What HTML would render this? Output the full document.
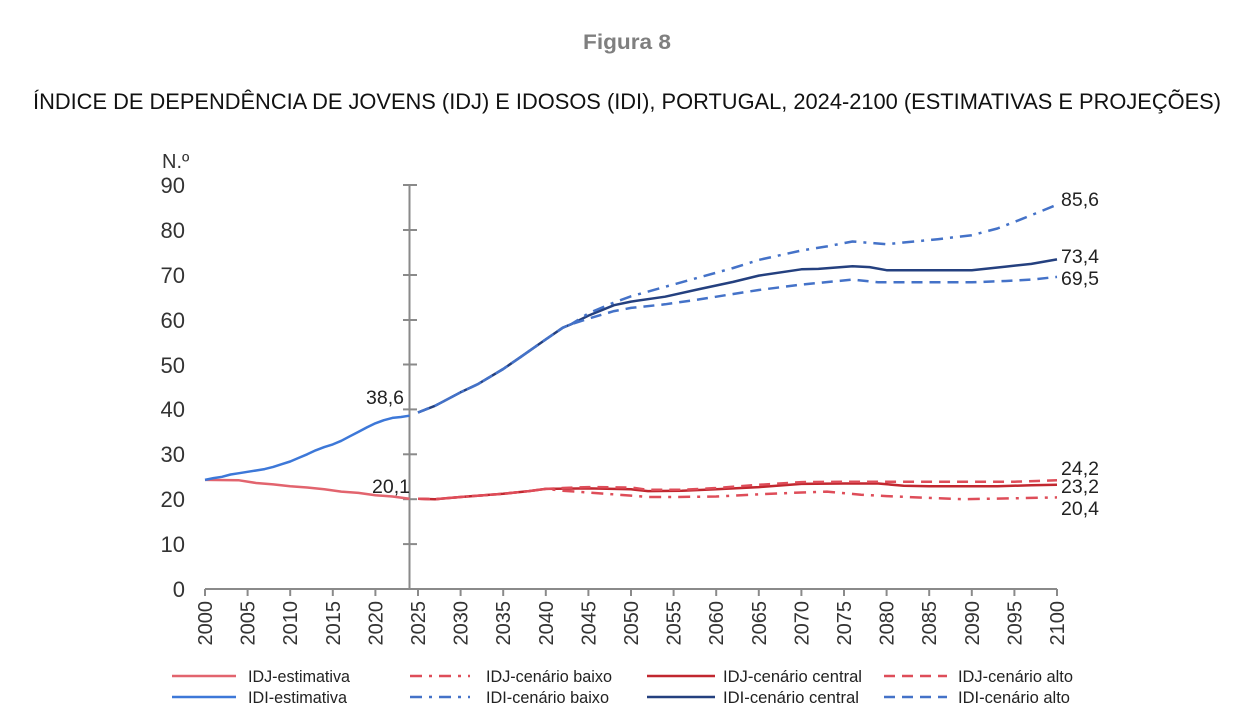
<!DOCTYPE html>
<html>
<head>
<meta charset="utf-8">
<style>
html,body{margin:0;padding:0;background:#fff;}
svg{display:block;}
text{font-family:"Liberation Sans",Arial,sans-serif;}
</style>
</head>
<body>
<svg width="1254" height="724" viewBox="0 0 1254 724" xmlns="http://www.w3.org/2000/svg">
<rect width="1254" height="724" fill="#fff"/>
<!-- Titles -->
<text x="627" y="49" text-anchor="middle" font-size="21" font-weight="bold" fill="#7f7f7f" textLength="88" lengthAdjust="spacingAndGlyphs">Figura 8</text>
<text x="33" y="109" font-size="22" fill="#111" textLength="1188" lengthAdjust="spacingAndGlyphs">ÍNDICE DE DEPENDÊNCIA DE JOVENS (IDJ) E IDOSOS (IDI), PORTUGAL, 2024-2100 (ESTIMATIVAS E PROJEÇÕES)</text>

<!-- Y axis label -->
<text x="162" y="168" font-size="20" fill="#333">N.º</text>

<!-- Y tick labels -->
<g font-size="22" fill="#333" text-anchor="end">
<text x="185" y="193">90</text>
<text x="185" y="238">80</text>
<text x="185" y="283">70</text>
<text x="185" y="328">60</text>
<text x="185" y="373">50</text>
<text x="185" y="417">40</text>
<text x="185" y="462">30</text>
<text x="185" y="507">20</text>
<text x="185" y="552">10</text>
<text x="185" y="597">0</text>
</g>

<!-- Axes -->
<g stroke="#8a8a8a" stroke-width="2" fill="none">
<line x1="409.5" y1="184" x2="409.5" y2="589"/>
<line x1="205" y1="589" x2="1057" y2="589"/>
<line x1="403" y1="185" x2="417" y2="185"/>
<line x1="403" y1="230" x2="417" y2="230"/>
<line x1="403" y1="275" x2="417" y2="275"/>
<line x1="403" y1="320" x2="417" y2="320"/>
<line x1="403" y1="364.5" x2="417" y2="364.5"/>
<line x1="403" y1="409.4" x2="417" y2="409.4"/>
<line x1="403" y1="454.3" x2="417" y2="454.3"/>
<line x1="403" y1="499.2" x2="417" y2="499.2"/>
<line x1="403" y1="544.1" x2="417" y2="544.1"/>
<line x1="205" y1="589" x2="205" y2="596"/>
<line x1="247.6" y1="589" x2="247.6" y2="596"/>
<line x1="290.2" y1="589" x2="290.2" y2="596"/>
<line x1="332.8" y1="589" x2="332.8" y2="596"/>
<line x1="375.4" y1="589" x2="375.4" y2="596"/>
<line x1="418" y1="589" x2="418" y2="596"/>
<line x1="460.6" y1="589" x2="460.6" y2="596"/>
<line x1="503.2" y1="589" x2="503.2" y2="596"/>
<line x1="545.8" y1="589" x2="545.8" y2="596"/>
<line x1="588.4" y1="589" x2="588.4" y2="596"/>
<line x1="631" y1="589" x2="631" y2="596"/>
<line x1="673.6" y1="589" x2="673.6" y2="596"/>
<line x1="716.2" y1="589" x2="716.2" y2="596"/>
<line x1="758.8" y1="589" x2="758.8" y2="596"/>
<line x1="801.4" y1="589" x2="801.4" y2="596"/>
<line x1="844" y1="589" x2="844" y2="596"/>
<line x1="886.6" y1="589" x2="886.6" y2="596"/>
<line x1="929.2" y1="589" x2="929.2" y2="596"/>
<line x1="971.8" y1="589" x2="971.8" y2="596"/>
<line x1="1014.4" y1="589" x2="1014.4" y2="596"/>
<line x1="1057" y1="589" x2="1057" y2="596"/>
</g>

<!-- X tick labels (rotated) -->
<g font-size="20" fill="#333" text-anchor="end">
<text transform="translate(212,601) rotate(-90)">2000</text>
<text transform="translate(254.6,601) rotate(-90)">2005</text>
<text transform="translate(297.2,601) rotate(-90)">2010</text>
<text transform="translate(339.8,601) rotate(-90)">2015</text>
<text transform="translate(382.4,601) rotate(-90)">2020</text>
<text transform="translate(425,601) rotate(-90)">2025</text>
<text transform="translate(467.6,601) rotate(-90)">2030</text>
<text transform="translate(510.2,601) rotate(-90)">2035</text>
<text transform="translate(552.8,601) rotate(-90)">2040</text>
<text transform="translate(595.4,601) rotate(-90)">2045</text>
<text transform="translate(638,601) rotate(-90)">2050</text>
<text transform="translate(680.6,601) rotate(-90)">2055</text>
<text transform="translate(723.2,601) rotate(-90)">2060</text>
<text transform="translate(765.8,601) rotate(-90)">2065</text>
<text transform="translate(808.4,601) rotate(-90)">2070</text>
<text transform="translate(851,601) rotate(-90)">2075</text>
<text transform="translate(893.6,601) rotate(-90)">2080</text>
<text transform="translate(936.2,601) rotate(-90)">2085</text>
<text transform="translate(978.8,601) rotate(-90)">2090</text>
<text transform="translate(1021.4,601) rotate(-90)">2095</text>
<text transform="translate(1064,601) rotate(-90)">2100</text>
</g>

<!-- Series -->
<g fill="none" stroke-width="2.5" stroke-linejoin="round" stroke-linecap="butt">
<polyline stroke="#E2646E" points="205,479.9 239.1,480.3 256.1,483.0 273.2,484.4 290.2,486.2 307.2,487.5 324.3,489.3 341.3,491.6 358.4,492.9 375.4,495.2 392.4,496.5 409.5,498.8"/>
<polyline stroke="#3D78D8" points="205,479.9 213.5,478.1 222,476.8 230.6,474.5 239.1,473.2 247.6,471.8 256.1,470.5 264.6,469.1 273.2,466.9 281.7,464.2 290.2,461.5 298.7,457.9 307.2,454.3 315.8,450.3 324.3,447.1 332.8,444.4 341.3,440.8 349.8,436.3 358.4,431.9 366.9,427.4 375.4,423.3 383.9,420.2 392.4,417.9 401,417.0 409.5,415.7"/>

<polyline stroke="#C1272F" points="418,498.8 435,499.2 460.6,497.0 503.2,493.8 528.8,491.1 545.8,488.9 588.4,488.4 631,489.3 648,491.1 682.1,490.7 716.2,489.3 758.8,487.1 801.4,483.9 844,483.5 878.1,483.5 903.6,485.7 929.2,486.2 997.4,486.2 1031.4,485.3 1057,484.8"/>
<polyline stroke="#DE4D59" stroke-dasharray="12 7 3 7" points="418,498.8 435,499.2 460.6,497.0 503.2,493.8 528.8,491.1 545.8,488.9 562.8,490.7 588.4,492.5 631,495.6 648,497.0 673.6,497.0 716.2,496.5 758.8,494.3 801.4,492.5 827,491.6 861,494.7 886.6,496.1 929.2,497.9 963.3,499.2 1014.4,498.3 1057,497.4"/>
<polyline stroke="#DE4D59" stroke-dasharray="11 7" points="418,498.8 435,499.2 460.6,497.0 503.2,493.8 528.8,491.1 545.8,488.9 562.8,488.0 588.4,487.1 631,487.5 648,489.8 682.1,489.8 716.2,488.0 758.8,484.8 801.4,482.1 844,481.7 1014.4,481.7 1057,480.3"/>

<polyline stroke="#24407F" points="418,412.5 435,405.8 443.6,401.3 460.6,392.3 477.6,384.3 503.2,369.0 520.2,357.3 545.8,339.4 562.8,327.7 571.4,324.1 588.4,315.6 614,305.2 631,301.6 665.1,296.7 699.2,289.1 733.2,281.9 758.8,275.6 801.4,269.3 818.4,268.9 852.5,266.2 869.6,267.1 886.6,270.2 971.8,270.2 1005.9,266.6 1031.4,263.9 1057,259.4"/>
<polyline stroke="#4472C8" stroke-dasharray="12 7 3 7" points="418,412.5 435,405.8 443.6,401.3 460.6,392.3 477.6,384.3 503.2,369.0 520.2,357.3 545.8,339.4 562.8,327.7 571.4,324.1 588.4,313.3 614,302.5 631,296.3 665.1,286.8 699.2,277.4 733.2,268.0 758.8,259.9 801.4,250.5 827,246.4 852.5,241.5 886.6,244.2 937.7,239.2 971.8,235.2 997.4,228.5 1022.9,218.6 1057,204.7"/>
<polyline stroke="#4472C8" stroke-dasharray="11 7" points="418,412.5 435,405.8 443.6,401.3 460.6,392.3 477.6,384.3 503.2,369.0 520.2,357.3 545.8,339.4 562.8,327.7 571.4,324.1 588.4,318.7 614,311.1 631,307.9 665.1,304.3 699.2,299.4 733.2,294.0 758.8,290.0 801.4,284.6 852.5,279.6 878.1,282.3 971.8,282.3 1005.9,281.0 1031.4,279.6 1057,276.9"/>
</g>

<!-- Data labels -->
<g font-size="19.5" fill="#222">
<text x="404" y="404" text-anchor="end">38,6</text>
<text x="410" y="493" text-anchor="end">20,1</text>
<text x="1061" y="206">85,6</text>
<text x="1061" y="263">73,4</text>
<text x="1061" y="285">69,5</text>
<text x="1061" y="475">24,2</text>
<text x="1061" y="493">23,2</text>
<text x="1061" y="515">20,4</text>
</g>

<!-- Legend -->
<g fill="none" stroke-width="2.5">
<line x1="172" y1="676" x2="236" y2="676" stroke="#E2646E"/>
<line x1="172" y1="697" x2="236" y2="697" stroke="#3D78D8"/>
<line x1="410" y1="676" x2="470" y2="676" stroke="#DE4D59" stroke-dasharray="12 7 3 7"/>
<line x1="410" y1="697" x2="470" y2="697" stroke="#4472C8" stroke-dasharray="12 7 3 7"/>
<line x1="647" y1="676" x2="715" y2="676" stroke="#C1272F"/>
<line x1="647" y1="697" x2="715" y2="697" stroke="#24407F"/>
<line x1="884" y1="676" x2="947" y2="676" stroke="#DE4D59" stroke-dasharray="11 7"/>
<line x1="884" y1="697" x2="947" y2="697" stroke="#4472C8" stroke-dasharray="11 7"/>
</g>
<g font-size="16.5" fill="#222">
<text x="248" y="682" textLength="102" lengthAdjust="spacingAndGlyphs">IDJ-estimativa</text>
<text x="248" y="703" textLength="99" lengthAdjust="spacingAndGlyphs">IDI-estimativa</text>
<text x="486" y="682" textLength="126" lengthAdjust="spacingAndGlyphs">IDJ-cenário baixo</text>
<text x="486" y="703" textLength="123" lengthAdjust="spacingAndGlyphs">IDI-cenário baixo</text>
<text x="723" y="682" textLength="139" lengthAdjust="spacingAndGlyphs">IDJ-cenário central</text>
<text x="723" y="703" textLength="136" lengthAdjust="spacingAndGlyphs">IDI-cenário central</text>
<text x="958" y="682" textLength="115" lengthAdjust="spacingAndGlyphs">IDJ-cenário alto</text>
<text x="958" y="703" textLength="112" lengthAdjust="spacingAndGlyphs">IDI-cenário alto</text>
</g>
</svg>
</body>
</html>
